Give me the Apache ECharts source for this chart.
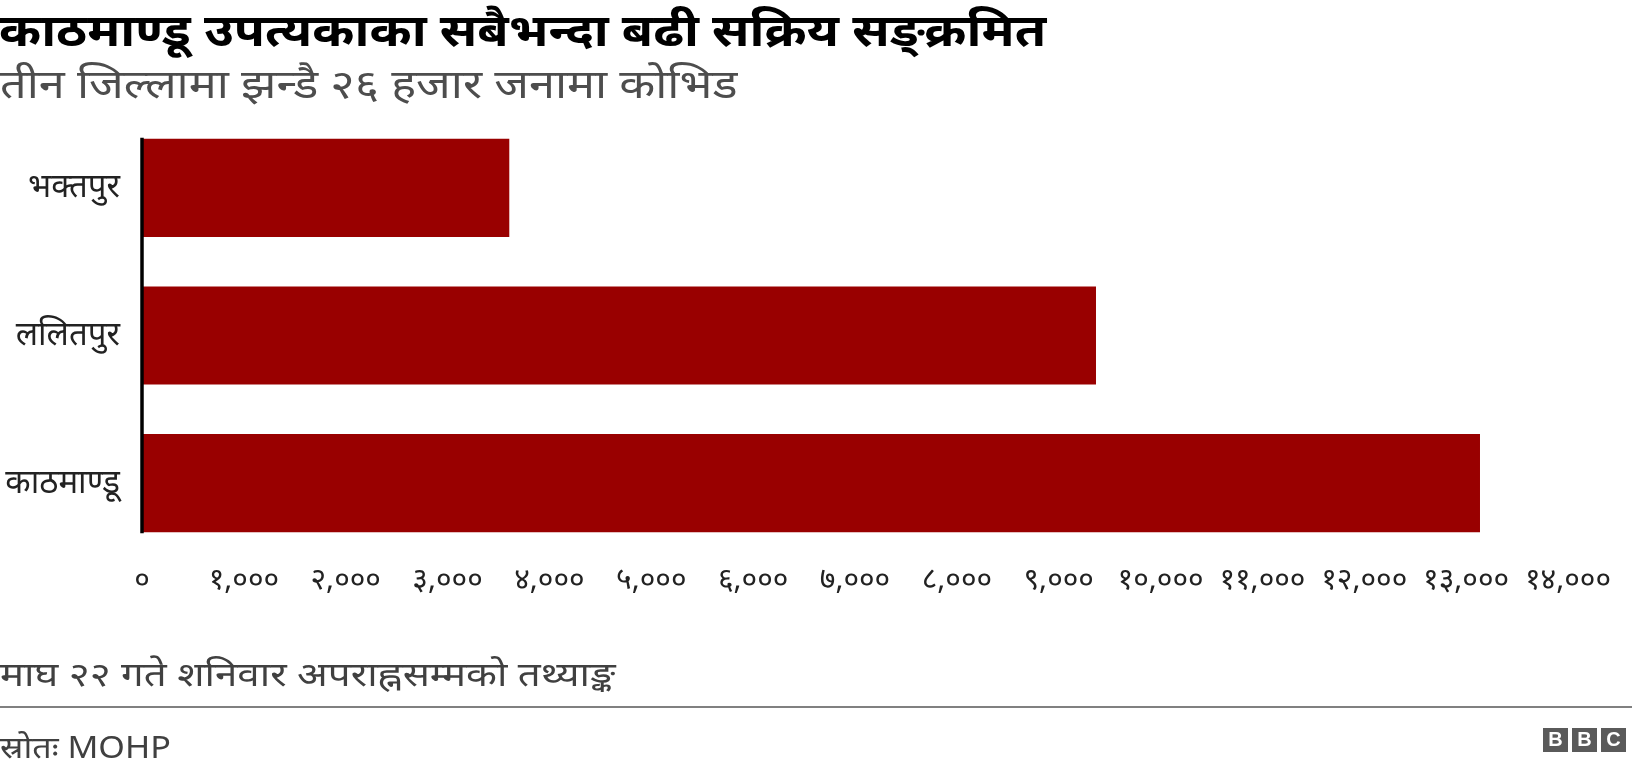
<!DOCTYPE html>
<html>
<head>
<meta charset="utf-8">
<script src="https://cdn.jsdelivr.net/npm/echarts@6/dist/echarts.min.js"></script>
<style>
html,body{margin:0;padding:0;background:#fff;}
#chart{width:1632px;height:774px;}
</style>
</head>
<body>
<div id="chart"></div>
<script>
const categories = ['भक्तपुर', 'ललितपुर', 'काठमाण्डू'];
const activeCases = [3606, 9366, 13136];
const axisMax = 14000;
const axisStep = 1000;

const titleText = 'काठमाण्डू उपत्यकाका सबैभन्दा बढी सक्रिय सङ्क्रमित';
const subtitleText = 'तीन जिल्लामा झन्डै २६ हजार जनामा कोभिड';
const noteText = 'माघ २२ गते शनिवार अपराह्नसम्मको तथ्याङ्क';
const sourceText = 'स्रोतः MOHP';

const devDigits = '०१२३४५६७८९';
function toDev(n) {
  return n.toLocaleString('en-US').replace(/[0-9]/g, d => devDigits[+d]);
}

const FONT = '"Noto Sans", "Noto Sans Devanagari", sans-serif';
const chart = echarts.init(document.getElementById('chart'), null, {renderer: 'canvas'});

const gridTop = 114, gridBottom = 217, gridLeft = 142, gridRight = 64;
const gapPct = 33.5;

const option = {
  animation: false,
  backgroundColor: '#ffffff',
  textStyle: {fontFamily: FONT},
  grid: {left: gridLeft, right: gridRight, top: gridTop, bottom: gridBottom, containLabel: false},
  xAxis: {
    type: 'value', min: 0, max: axisMax, interval: axisStep,
    axisLine: {show: false}, axisTick: {show: false}, splitLine: {show: false},
    axisLabel: {margin: 8, fontSize: 30, color: '#222222', fontFamily: FONT,
                formatter: v => toDev(v)}
  },
  yAxis: {
    type: 'category', data: categories, inverse: true,
    axisLine: {show: false}, axisTick: {show: false},
    axisLabel: {margin: 22, fontSize: 33, color: '#222222', fontFamily: FONT}
  },
  series: [{
    type: 'bar', data: activeCases, barCategoryGap: gapPct + '%',
    itemStyle: {color: '#990000'}, silent: true
  }]
};
chart.setOption(option);

// axis line spanning from top of first bar to bottom of last bar, derived from scales
const band = (774 - gridTop - gridBottom) / categories.length;
const barH = band * (1 - gapPct / 100);
const x0 = chart.convertToPixel({xAxisIndex: 0}, 0);
const yFirst = chart.convertToPixel({yAxisIndex: 0}, categories[0]);
const yLast = chart.convertToPixel({yAxisIndex: 0}, categories[categories.length - 1]);

function txt(text, x, y, size, weight, color, sx) {
  return {type: 'text', x: x, y: y, scaleX: sx, originX: 0, originY: 0, silent: true,
          style: {text: text, font: weight + ' ' + size + 'px ' + FONT, fill: color,
                  align: 'left', verticalAlign: 'middle'}};
}

chart.setOption({
  graphic: [
    {type: 'line', silent: true, z: 10,
     shape: {x1: x0, y1: yFirst - barH / 2 - 1, x2: x0, y2: yLast + barH / 2 + 1},
     style: {stroke: '#000000', lineWidth: 3.5}},
    txt(titleText, -1, 33, 44, 'bold', '#000000', 1.155),
    txt(subtitleText, 0, 87, 40, 'normal', '#4d4d4d', 1.17),
    txt(noteText, 0, 677, 33, 'normal', '#404040', 1.22),
    {type: 'rect', silent: true, shape: {x: 0, y: 706, width: 1632, height: 2}, style: {fill: '#808080'}},
    txt(sourceText, 0, 749, 31, 'normal', '#404040', 1.1),
    {type: 'group', x: 1543, y: 728, silent: true, children: [
      {type: 'rect', shape: {x: 0, y: 0, width: 25, height: 24}, style: {fill: '#5a5a5a'}},
      {type: 'text', style: {text: 'B', x: 12.5, y: 12, align: 'center', verticalAlign: 'middle', font: 'bold 20px "Liberation Sans", Arial, sans-serif', fill: '#ffffff'}},
      {type: 'rect', shape: {x: 29, y: 0, width: 25, height: 24}, style: {fill: '#5a5a5a'}},
      {type: 'text', style: {text: 'B', x: 41.5, y: 12, align: 'center', verticalAlign: 'middle', font: 'bold 20px "Liberation Sans", Arial, sans-serif', fill: '#ffffff'}},
      {type: 'rect', shape: {x: 58, y: 0, width: 25, height: 24}, style: {fill: '#5a5a5a'}},
      {type: 'text', style: {text: 'C', x: 70.5, y: 12, align: 'center', verticalAlign: 'middle', font: 'bold 20px "Liberation Sans", Arial, sans-serif', fill: '#ffffff'}}
    ]}
  ]
});
</script>
</body>
</html>
